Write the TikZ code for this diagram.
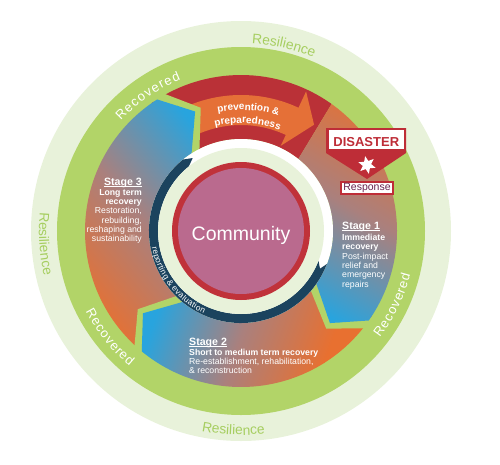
\documentclass[tikz,border=0pt]{standalone}
\usepackage{fontspec}
\setmainfont{Liberation Sans}
\usetikzlibrary{decorations.text,shapes.geometric}
\definecolor{pale}{RGB}{232,242,218}
\definecolor{ringgreen}{RGB}{178,212,104}
\definecolor{resgreen}{RGB}{166,206,96}
\definecolor{bandred}{RGB}{186,49,55}
\definecolor{arroworange}{RGB}{229,112,55}
\definecolor{sorange}{RGB}{232,112,48}
\definecolor{sblue}{RGB}{40,164,222}
\definecolor{smid}{RGB}{170,128,125}
\definecolor{navy}{RGB}{27,67,94}
\definecolor{compurple}{RGB}{186,106,142}
\definecolor{comred}{RGB}{192,50,58}
\definecolor{disred}{RGB}{190,45,55}
\definecolor{resptext}{RGB}{105,35,80}
\newcommand\myul[1]{\setbox0\hbox{#1}\rlap{\rule[-1.7pt]{\wd0}{0.8pt}}\box0}
\newcommand\myresfont{\fontsize{13.8}{14}\selectfont}
\newcommand\myrecfont{\fontsize{13}{13}\selectfont}
\newcommand\myprevfont{\fontsize{10}{10}\selectfont\bfseries}
\newcommand\myrepfont{\fontsize{8.3}{8.3}\selectfont}
\newcommand\mk{\kern0.35pt}
\begin{document}
\begin{tikzpicture}[x=1pt,y=1pt,
  halo/.style={ringgreen, line width=11pt, line join=miter, line cap=butt},
  stagehead/.style={text=white, inner sep=0pt, font=\fontsize{10.6}{10.6}\selectfont\bfseries},
  stagebody/.style={text=white, inner sep=0pt, font=\fontsize{8.7}{9.3}\selectfont},
  gradband/.style={top color=sorange, bottom color=sblue, middle color=smid}]
\useasboundingbox (-241,-233) rectangle (259,231);
% outer rings
\fill[pale] (0,0) circle[radius=210];
\fill[ringgreen] (0,0) circle[radius=184];
% prevention band
\fill[bandred] (125:156) arc[start angle=125,end angle=54.5,radius=156] -- (51.5:92) arc[start angle=51.5,end angle=125,radius=92] -- cycle;
\fill[arroworange] (125:136) arc[start angle=125,end angle=65,radius=136] -- (65:154) -- (55.5:129) -- (65:94) -- (65:106) arc[start angle=65,end angle=125,radius=106] -- cycle;
% stage 3
\draw[halo] (122.5:160) -- (111:128) -- (122.5:88);
\begin{scope}
\clip (232:156) arc[start angle=232,end angle=122.5,radius=156] -- (111:128) -- (122.5:92) arc[start angle=122.5,end angle=232,radius=92] -- cycle;
\begin{scope}[transform canvas={shift={(-51,111)}, rotate=130}]
\fill[sblue] (-400,-400) rectangle (400,0.5);
\fill[sorange] (-400,199.5) rectangle (400,400);
\shade[gradband] (-400,0) rectangle (400,200);
\end{scope}
\end{scope}
% stage 2
\draw[halo] (230.5:160) -- (220:128) -- (230.5:88);
\begin{scope}
\clip (-33:156) arc[start angle=-33,end angle=-129.5,radius=156] -- (-140:128) -- (-129.5:92) arc[start angle=-129.5,end angle=-33,radius=92] -- cycle;
\begin{scope}[transform canvas={shift={(-91,-99)}, rotate=-110}]
\fill[sblue] (-400,-400) rectangle (400,0.5);
\fill[sorange] (-400,174.5) rectangle (400,400);
\shade[gradband] (-400,0) rectangle (400,175);
\end{scope}
\end{scope}
% stage 1
\draw[halo] (-35:160) -- (-46:128) -- (-35:88);
\begin{scope}
\clip (54.5:156) arc[start angle=54.5,end angle=-35,radius=156] -- (-46:128) -- (-35:92) arc[start angle=-35,end angle=51.5,radius=92] -- cycle;
\begin{scope}[transform canvas={shift={(94,-89)}, rotate=-30}]
\fill[sblue] (-400,-400) rectangle (400,0.5);
\fill[sorange] (-400,209.5) rectangle (400,400);
\shade[gradband] (-400,0) rectangle (400,210);
\end{scope}
\end{scope}
% centre
\fill[white] (0,0) circle[radius=92];
\fill[navy] (-21:92) arc[start angle=-21,end angle=-231,radius=92] -- (-236.5:87.5) -- (-231:83) arc[start angle=-231,end angle=-21,radius=83] -- (-25.5:87.5) -- cycle;
\fill[pale] (0,0) circle[radius=83];
\fill[comred] (0,0) circle[radius=69];
\fill[compurple] (0,0) circle[radius=63];
\node[anchor=base, text=white, inner sep=0pt, font=\fontsize{19.5}{20}\selectfont] (community) at (0,-9) {Community};
% curved texts
\path[decorate, decoration={text along path, text={|\myresfont|Resilience}, text align=center, text color=resgreen}] (107:188) arc[start angle=107,end angle=47,radius=188];
\path[decorate, decoration={text along path, text={|\myresfont|Resilience}, text align=center, text color=resgreen}] (153.7:202) arc[start angle=153.7,end angle=213.7,radius=202];
\path[decorate, decoration={text along path, text={|\myresfont|Resilience}, text align=center, text color=resgreen}] (237.8:204) arc[start angle=237.8,end angle=297.8,radius=204];
\path[decorate, decoration={text along path, text={|\myrecfont|{R\kern1.3pt}{e\kern1.3pt}{c\kern1.3pt}{o\kern1.3pt}{v\kern1.3pt}{e\kern1.3pt}{r\kern1.3pt}{e\kern1.3pt}d}, text align=center, text color=white}] (154.6:163) arc[start angle=154.6,end angle=94.6,radius=163];
\path[decorate, decoration={text along path, text={|\myrecfont|{R\kern0.9pt}{e\kern0.9pt}{c\kern0.9pt}{o\kern0.9pt}{v\kern0.9pt}{e\kern0.9pt}{r\kern0.9pt}{e\kern0.9pt}d}, text align=center, text color=white}] (189:175) arc[start angle=189,end angle=249,radius=175];
\path[decorate, decoration={text along path, text={|\myrecfont|{R\kern0.9pt}{e\kern0.9pt}{c\kern0.9pt}{o\kern0.9pt}{v\kern0.9pt}{e\kern0.9pt}{r\kern0.9pt}{e\kern0.9pt}d}, text align=center, text color=white}] (-56:175) arc[start angle=-56,end angle=4,radius=175];
\path[decorate, decoration={text along path, text={|\myprevfont|prevention {\&}}, text align=center, text color=white}] (121.5:121) arc[start angle=121.5,end angle=51.5,radius=121];
\path[decorate, decoration={text along path, text={|\myprevfont|preparedness}, text align=center, text color=white}] (121.5:108) arc[start angle=121.5,end angle=51.5,radius=108];
\path[decorate, decoration={text along path, text={|\myrepfont|{r\mk}{e\mk}{p\mk}{o\mk}{r\mk}{t\mk}{i\mk}{n\mk}{g\mk} {\&\mk} {e\mk}{v\mk}{a\mk}{l\mk}{u\mk}{a\mk}{t\mk}{i\mk}{o\mk}n}, text align=center, text color=white}] (168:90.5) arc[start angle=168,end angle=268,radius=90.5];
% disaster sign
\fill[disred] (85,103) -- (165,103) -- (165,78) -- (126,52) -- (85,78) -- cycle;
\fill[white] (87.5,100.7) rectangle (162.6,81.6);
\node[text=disred, inner sep=0pt, font=\fontsize{13}{13}\selectfont\bfseries] (disaster) at (125.3,89.3) {DISASTER};
\node[star, star points=6, star point ratio=2.1, fill=white, minimum size=18pt, inner sep=0pt, rotate=12] (burst) at (126,66) {};
\node[draw=disred, line width=1.8pt, fill=white, text=resptext, inner sep=0pt, minimum width=52.5pt, minimum height=12.5pt, font=\fontsize{10.5}{10.5}\selectfont] (response) at (126,43) {Response};
% stage texts
\node[stagehead, anchor=base west] (s1head) at (101,1.7) {\myul{Stage 1}};
\node[stagebody, anchor=north west, align=left] (s1body) at (101,-3.1) {\textbf{Immediate}\\\textbf{recovery}\\Post-impact\\relief and\\emergency\\repairs};
\node[stagehead, anchor=base west] (s2head) at (-52,-114.3) {\myul{Stage 2}};
\node[stagebody, anchor=north west, align=left] (s2body) at (-52,-117.5) {\textbf{Short to medium term recovery}\\Re-establishment, rehabilitation,\\\& reconstruction};
\node[stagehead, anchor=base east] (s3head) at (-99,46) {\myul{Stage 3}};
\node[stagebody, anchor=north east, align=right] (s3body) at (-99,41.9) {\textbf{Long term}\\\textbf{recovery}\\Restoration,\\rebuilding,\\reshaping and\\sustainability};
\end{tikzpicture}
\end{document}
